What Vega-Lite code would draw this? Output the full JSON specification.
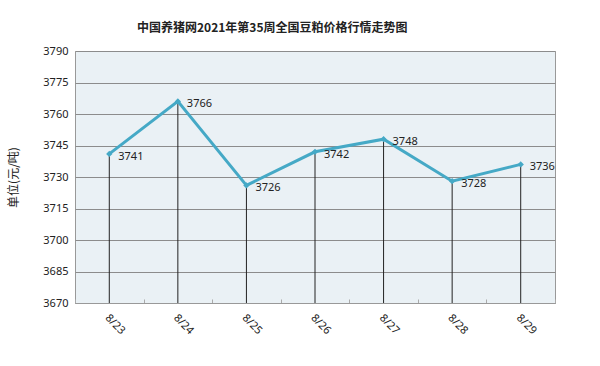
{
  "$schema": "https://vega.github.io/schema/vega-lite/v6.json",
  "width": 480,
  "height": 252,
  "autosize": "none",
  "padding": {"left": 75, "top": 51, "right": 45, "bottom": 63},
  "background": "white",
  "title": {
    "text": "中国养猪网2021年第35周全国豆粕价格行情走势图",
    "font": "Noto Sans CJK SC",
    "fontSize": 12,
    "fontWeight": "bold",
    "color": "#222",
    "anchor": "start",
    "frame": "group",
    "dx": 62,
    "offset": 10
  },
  "data": {
    "values": [
      {"date": "8/23", "price": 3741},
      {"date": "8/24", "price": 3766},
      {"date": "8/25", "price": 3726},
      {"date": "8/26", "price": 3742},
      {"date": "8/27", "price": 3748},
      {"date": "8/28", "price": 3728},
      {"date": "8/29", "price": 3736}
    ]
  },
  "encoding": {
    "x": {
      "field": "date",
      "type": "nominal",
      "sort": null,
      "scale": {"paddingInner": 0, "paddingOuter": 0},
      "axis": {
        "title": null,
        "labelAngle": 45,
        "labelAlign": "left",
        "labelBaseline": "middle",
        "labelPadding": 17,
        "labelOffset": -3,
        "labelFont": "Noto Sans",
        "labelFontSize": 11,
        "labelColor": "#222",
        "domainColor": "#999",
        "tickBand": "extent",
        "tickSize": -4,
        "tickColor": "#aaa",
        "grid": false
      }
    },
    "y": {
      "field": "price",
      "type": "quantitative",
      "scale": {"domain": [3670, 3790], "nice": false, "zero": false},
      "axis": {
        "title": "单位(元/吨)",
        "titleFont": "Noto Sans CJK SC",
        "titleFontSize": 12,
        "titleFontWeight": "normal",
        "titleColor": "#222",
        "titleAngle": -90,
        "titleX": -62,
        "titleY": 126,
        "titleAlign": "center",
        "titleBaseline": "middle",
        "values": [3670, 3685, 3700, 3715, 3730, 3745, 3760, 3775, 3790],
        "format": "d",
        "ticks": false,
        "labelPadding": 7,
        "labelFont": "Noto Sans",
        "labelFontSize": 11,
        "labelColor": "#222",
        "gridColor": "#8c8c8c",
        "gridWidth": 1,
        "domain": false
      }
    }
  },
  "layer": [
    {
      "mark": {"type": "rule", "color": "#222", "strokeWidth": 1},
      "encoding": {"y2": {"datum": 3670}}
    },
    {
      "mark": {"type": "line", "color": "#45A9C6", "strokeWidth": 3},
      "encoding": {}
    },
    {
      "mark": {"type": "point", "shape": "diamond", "filled": true, "color": "#45A9C6", "size": 40, "opacity": 1},
      "encoding": {}
    },
    {
      "mark": {"type": "text", "align": "left", "baseline": "middle", "dx": 9, "dy": 3, "font": "Noto Sans", "fontSize": 11, "color": "#222"},
      "encoding": {"text": {"field": "price", "type": "quantitative"}}
    }
  ],
  "config": {
    "view": {"fill": "#EAF1F5", "stroke": "#999", "strokeWidth": 1}
  }
}
